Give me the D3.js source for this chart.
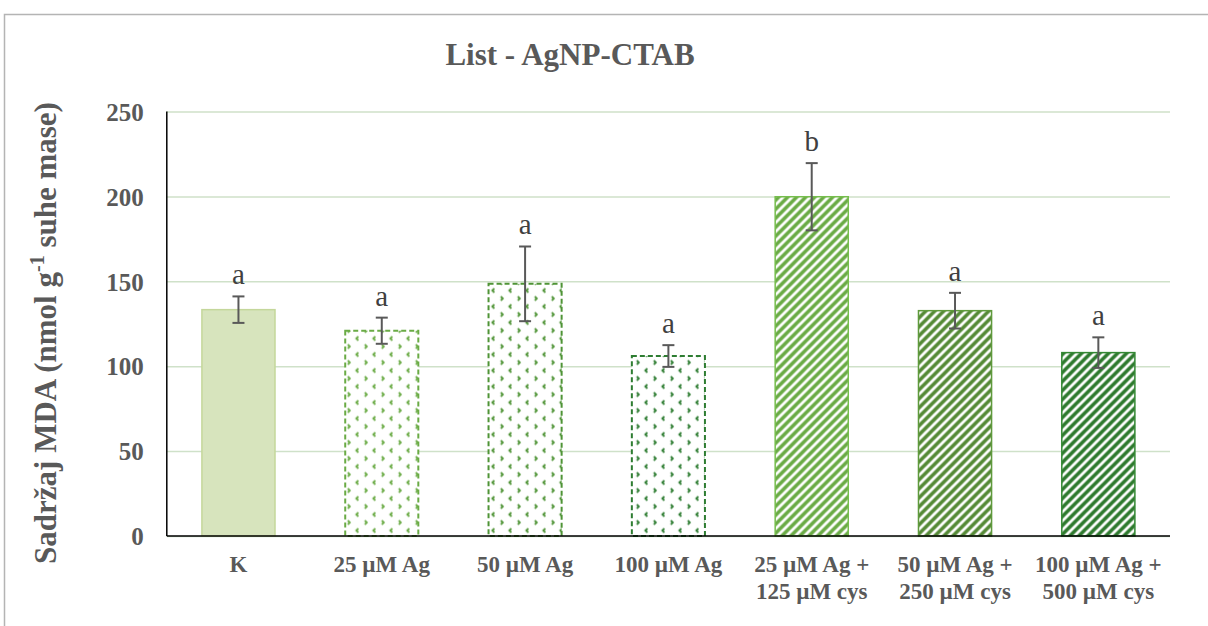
<!DOCTYPE html>
<html>
<head>
<meta charset="utf-8">
<script src="https://cdn.jsdelivr.net/npm/d3@7"></script>
<style>
  body { margin: 0; background: #fff; }
  .tick-label { font-family: "Liberation Serif", serif; font-weight: bold; fill: #595959; }
  .axistitle { font-family: "Liberation Serif", serif; font-weight: bold; fill: #595959; }
  .sig { font-family: "Liberation Serif", serif; fill: #404040; }
</style>
</head>
<body>
<div id="chart"></div>
<script>
// DATA
var categories = [
  ["K"],
  ["25 µM Ag"],
  ["50 µM Ag"],
  ["100 µM Ag"],
  ["25 µM Ag +", "125 µM cys"],
  ["50 µM Ag +", "250 µM cys"],
  ["100 µM Ag +", "500 µM cys"]
];
var means = [133.3, 120.9, 148.5, 106.0, 199.8, 132.7, 108.0];
var errors = [7.8, 7.7, 22.0, 6.4, 19.8, 10.5, 9.0];
var letters = ["a", "a", "a", "a", "b", "a", "a"];
var yTicks = [0, 50, 100, 150, 200, 250];

// bar look: solid / dotted / striped
var kinds = ["solid", "dots", "dots", "dots", "stripes", "stripes", "stripes"];
var colors = ["#d7e4bd", "#6aab45", "#4f9436", "#2e7d32", "#6aab45", "#558a36", "#2e7a2e"];

var W = 1208, H = 626;
var margin = { top: 111.5, right: 38, bottom: 90, left: 166.8 };
var width = W - margin.left - margin.right;
var height = H - margin.top - margin.bottom;

var svg = d3.select("#chart").append("svg")
  .attr("width", W)
  .attr("height", H);

// outer frame
svg.append("rect")
  .attr("x", 4.5).attr("y", 14.5)
  .attr("width", 1300).attr("height", 700)
  .attr("fill", "none")
  .attr("stroke", "#b4b4b4")
  .attr("stroke-width", 1.5);

var defs = svg.append("defs");
colors.forEach(function(c, i) {
  if (kinds[i] == "dots") {
    var p = defs.append("pattern")
      .attr("id", "pat" + i)
      .attr("patternUnits", "userSpaceOnUse")
      .attr("width", 17).attr("height", 16);
    p.append("rect").attr("width", 17).attr("height", 16).attr("fill", "#fff");
    p.append("path")
      .attr("d", "M4.5,1 L2.5,3 L4.5,5 M11,9 L13,11 L11,13")
      .attr("fill", "none")
      .attr("stroke", c)
      .attr("stroke-width", 1.8);
  } else if (kinds[i] == "stripes") {
    var p2 = defs.append("pattern")
      .attr("id", "pat" + i)
      .attr("patternUnits", "userSpaceOnUse")
      .attr("width", 9).attr("height", 9);
    p2.append("rect").attr("width", 9).attr("height", 9).attr("fill", c);
    p2.append("path")
      .attr("d", "M-2,2 L2,-2 M0,9 L9,0 M7,11 L11,7")
      .attr("stroke", "#fff")
      .attr("stroke-width", 2.8);
  }
});

var g = svg.append("g")
  .attr("transform", "translate(" + margin.left + "," + margin.top + ")");

//SCALES
var x = d3.scaleBand()
  .domain(d3.range(categories.length))
  .range([0, width])
  .paddingInner(0.49)
  .paddingOuter(0.245);

var y = d3.scaleLinear()
  .domain([0, 250])
  .range([height, 0]);

// gridlines
g.append("g")
  .attr("class", "grid")
  .call(d3.axisLeft(y).tickValues(yTicks).tickSize(-width).tickFormat(""))
  .call(function(s) {
    s.select(".domain").remove();
    s.selectAll("line").attr("stroke", "#cfe1c9").attr("stroke-width", 1.5);
  });

// y tick labels
g.append("g")
  .call(d3.axisLeft(y).tickValues(yTicks).tickSize(0).tickPadding(23))
  .call(function(s) {
    s.select(".domain").remove();
    s.selectAll("text")
      .attr("class", "tick-label")
      .style("font-size", "25px")
      .attr("dy", "0.35em");
  });

// bars
g.selectAll(".bar")
  .data(means)
  .enter().append("rect")
  .attr("class", "bar")
  .attr("x", function(d, i) { return x(i); })
  .attr("y", function(d) { return y(d); })
  .attr("width", x.bandwidth())
  .attr("height", function(d) { return height - y(d); })
  .attr("fill", function(d, i) { return kinds[i] == "solid" ? colors[i] : "url(#pat" + i + ")"; })
  .attr("stroke", function(d, i) {
    if (kinds[i] == "solid") return "#c4d79b";
    if (kinds[i] == "stripes") return d3.color(colors[i]).brighter(0.3);
    return colors[i];
  })
  .attr("stroke-width", function(d, i) { return kinds[i] == "dots" ? 2 : 1.5; })
  .attr("stroke-dasharray", function(d, i) { return kinds[i] == "dots" ? "5,3" : null; });

// error bars
var eb = g.selectAll(".err")
  .data(means)
  .enter().append("g")
  .attr("class", "err")
  .attr("stroke", "#595959")
  .attr("stroke-width", 2);

eb.append("line")
  .attr("x1", function(d, i) { return x(i) + x.bandwidth() / 2; })
  .attr("x2", function(d, i) { return x(i) + x.bandwidth() / 2; })
  .attr("y1", function(d, i) { return y(d + errors[i]); })
  .attr("y2", function(d, i) { return y(d - errors[i]); });

[1, -1].forEach(function(sign) {
  eb.append("line")
    .attr("x1", function(d, i) { return x(i) + x.bandwidth() / 2 - 6; })
    .attr("x2", function(d, i) { return x(i) + x.bandwidth() / 2 + 6; })
    .attr("y1", function(d, i) { return y(d + sign * errors[i]); })
    .attr("y2", function(d, i) { return y(d + sign * errors[i]); });
});

// significance letters
g.selectAll(".sig")
  .data(letters)
  .enter().append("text")
  .attr("class", "sig")
  .attr("x", function(d, i) { return x(i) + x.bandwidth() / 2; })
  .attr("y", function(d, i) { return y(means[i] + errors[i]) - 12; })
  .attr("text-anchor", "middle")
  .style("font-size", "29px")
  .text(function(d) { return d; });

// axes lines
g.append("line")
  .attr("x1", 0).attr("x2", 0)
  .attr("y1", 0).attr("y2", height)
  .attr("stroke", "#000").attr("stroke-width", 1.5);
g.append("line")
  .attr("x1", 0).attr("x2", width)
  .attr("y1", height).attr("y2", height)
  .attr("stroke", "#000").attr("stroke-width", 1.5);

// x labels
var xl = g.selectAll(".xlab")
  .data(categories)
  .enter().append("text")
  .attr("class", "tick-label xlab")
  .attr("text-anchor", "middle")
  .style("font-size", "23px")
  .attr("transform", function(d, i) {
    return "translate(" + (x(i) + x.bandwidth() / 2) + "," + (height + 36) + ")";
  });
xl.selectAll("tspan")
  .data(function(d) { return d; })
  .enter().append("tspan")
  .attr("x", 0)
  .attr("dy", function(d, j) { return j == 0 ? 0 : 27; })
  .text(function(d) { return d; });

// title
svg.append("text")
  .attr("class", "axistitle")
  .attr("x", 570)
  .attr("y", 65)
  .attr("text-anchor", "middle")
  .style("font-size", "31px")
  .text("List - AgNP-CTAB");

// y axis title
var yt = svg.append("text")
  .attr("class", "axistitle")
  .attr("transform", "translate(56,333) rotate(-90)")
  .attr("text-anchor", "middle")
  .style("font-size", "31px");
yt.append("tspan").text("Sadržaj MDA (nmol g");
yt.append("tspan").attr("dy", -12).style("font-size", "20px").text("-1");
yt.append("tspan").attr("dy", 12).text(" suhe mase)");
</script>
</body>
</html>
